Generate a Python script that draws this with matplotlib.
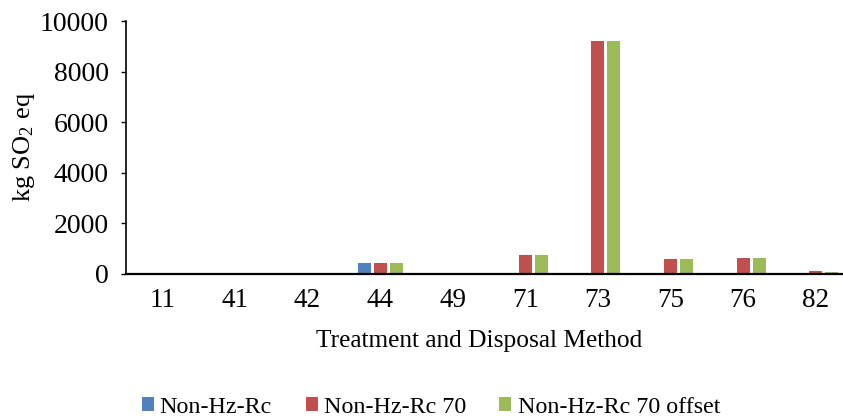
import matplotlib.pyplot as plt
import numpy as np

plt.rcParams['font.family'] = ['Liberation Serif', 'DejaVu Serif']
plt.rcParams['mathtext.fontset'] = 'custom'
plt.rcParams['mathtext.rm'] = 'Liberation Serif'
plt.rcParams['mathtext.default'] = 'regular'

# data
methods = ['11', '41', '42', '44', '49', '71', '73', '75', '76', '82']
non_hz_rc = [0, 0, 0, 435, 0, 0, 0, 0, 0, 0]
non_hz_rc_70 = [5, 5, 15, 435, 5, 725, 9240, 585, 630, 105]
non_hz_rc_70_offset = [5, 5, 15, 435, 5, 725, 9240, 585, 630, 75]

series_names = ['Non-Hz-Rc', 'Non-Hz-Rc 70', 'Non-Hz-Rc 70 offset']
colors = ['#4F81BD', '#C0504D', '#9BBB59']

fig = plt.figure(figsize=(8.43, 4.18), dpi=100)
ax = fig.add_axes([0.1495, 0.3452, 0.8612, 0.6034])

x = np.arange(len(methods))
w = 0.18
offsets = [-0.22, 0, 0.22]
for vals, name, c, off in zip([non_hz_rc, non_hz_rc_70, non_hz_rc_70_offset],
                              series_names, colors, offsets):
    ax.bar(x + off, vals, width=w, color=c, label=name)

ax.set_xlim(-0.5, len(methods) - 0.5)
ax.set_ylim(0, 10000)
ax.set_yticks(np.arange(0, 10001, 2000))
ax.set_xticks(x)
ax.set_xticklabels(methods)
ax.tick_params(axis='x', length=0, labelsize=19.5, pad=10)
ax.tick_params(axis='y', length=3.5, width=1, labelsize=20, pad=9)

for s in ['top', 'right']:
    ax.spines[s].set_visible(False)
ax.spines['left'].set_linewidth(1.2)
ax.spines['bottom'].set_linewidth(1.6)

ax.set_ylabel('kg SO$_2$ eq', fontsize=19)
ax.yaxis.set_label_coords(-0.122, 0.5)
ax.set_xlabel('Treatment and Disposal Method', fontsize=18.3)
ax.xaxis.set_label_coords(0.486, -0.225)

fig.legend(loc='center', bbox_to_anchor=(0.511, 0.026), ncol=3, frameon=False,
           fontsize=17.3, handlelength=0.5, handleheight=0.5, handletextpad=0.25,
           columnspacing=1.4)

fig.savefig('out.png', dpi=100)
